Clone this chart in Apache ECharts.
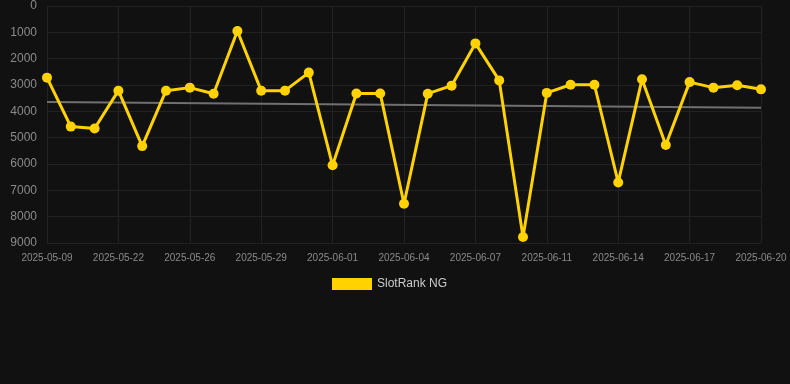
<!DOCTYPE html>
<html>
<head>
<meta charset="utf-8">
<script src="https://cdn.jsdelivr.net/npm/echarts@6/dist/echarts.min.js"></script>
<style>
  html, body { margin: 0; padding: 0; background: #111111; }
  #chart { width: 790px; height: 384px; }
</style>
</head>
<body>
<div id="chart"></div>
<script>
// dates (only every 3rd one is labelled in the picture, the rest are guesses)
const dates = [
  '2025-05-09', '2025-05-13', '2025-05-18', '2025-05-22', '2025-05-23', '2025-05-25',
  '2025-05-26', '2025-05-27', '2025-05-28', '2025-05-29', '2025-05-30', '2025-05-31',
  '2025-06-01', '2025-06-02', '2025-06-03', '2025-06-04', '2025-06-05', '2025-06-06',
  '2025-06-07', '2025-06-08', '2025-06-10', '2025-06-11', '2025-06-12', '2025-06-13',
  '2025-06-14', '2025-06-15', '2025-06-16', '2025-06-17', '2025-06-18', '2025-06-19',
  '2025-06-20'
]
// rank values
const ranks = [
  2720, 4580, 4650, 3215, 5320, 3215, 3100, 3330, 950, 3215, 3215, 2530,
  6050, 3320, 3320, 7510, 3330, 3025, 1420, 2825, 8775, 3300, 2990, 2990,
  6700, 2785, 5280, 2890, 3100, 3010, 3165
]
// trend line end points
const trendStart = 3645
const trendEnd = 3860
const yTicks = [0, 9000]

let myChart = echarts.init(document.getElementById('chart'))

let option = {
  backgroundColor: '#111111',
  animation: false,
  grid: {
    left: 47,
    right: 29,
    top: 6,
    bottom: 141
  },
  legend: {
    top: 273,
    left: 327,
    itemWidth: 40,
    itemHeight: 12,
    textStyle: { color: '#cccccc', fontSize: 12 },
    data: [{ name: 'SlotRank NG', icon: 'rect' }]
  },
  xAxis: {
    type: 'category',
    data: dates,
    boundaryGap: false,
    axisLine: { show: false },
    axisTick: { show: false },
    axisLabel: {
      color: '#8a8a8a',
      fontSize: 10,
      interval: 2,
      margin: 10
    },
    splitLine: {
      show: true,
      interval: 2,
      lineStyle: { color: '#222222' }
    }
  },
  yAxis: {
    type: 'value',
    inverse: true,
    min: yTicks[0],
    max: yTicks[1],
    interval: 1000,
    axisLine: { show: false },
    axisTick: { show: false },
    axisLabel: {
      color: '#8a8a8a',
      fontSize: 12,
      margin: 10,
      formatter: function (v) { return String(v) }
    },
    splitLine: { lineStyle: { color: '#222222' } }
  },
  series: [
    {
      name: 'SlotRank NG',
      type: 'line',
      data: ranks,
      color: '#ffd200',
      lineStyle: { width: 3, color: '#ffd200' },
      symbol: 'circle',
      symbolSize: 10,
      itemStyle: { color: '#ffd200' },
      z: 3
    },
    {
      name: 'trend',
      type: 'line',
      data: [[0, trendStart], [dates.length - 1, trendEnd]],
      symbol: 'none',
      lineStyle: { width: 2, color: '#707070' },
      z: 2
    }
  ]
}

myChart.setOption(option)
window.addEventListener('resize', function () {
  myChart.resize()
}, false)
</script>
</body>
</html>
